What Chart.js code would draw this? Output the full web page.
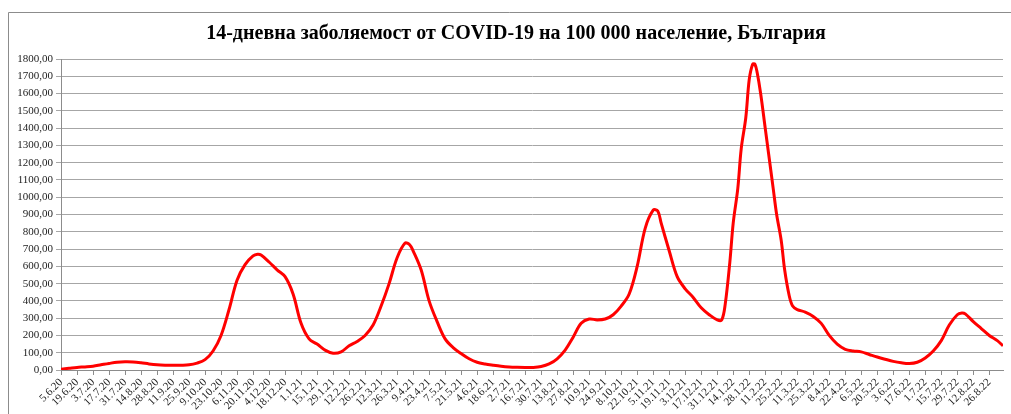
<!DOCTYPE html>
<html>
<head>
<meta charset="utf-8">
<script src="https://cdn.jsdelivr.net/npm/chart.js@4.4.1/dist/chart.umd.min.js"></script>
<style>
html,body{margin:0;padding:0;background:#fff;}
#wrap{position:relative;width:1011px;height:414px;}
</style>
</head>
<body>
<div id="wrap"><canvas id="c" width="1011" height="414"></canvas></div>
<script>
// Days since 5.6.2020
const days = [0,7,14,21,28,35,42,49,56,63,70,77,84,91,98,105,112,119,126,133,140,147,154,161,168,172,175,182,189,196,203,210,217,224,231,238,245,252,259,266,273,280,287,294,301,305,308,315,322,329,336,343,350,357,364,371,378,385,392,399,406,413,420,427,434,441,448,455,462,469,476,483,490,497,504,511,518,522,525,532,539,546,553,560,567,574,578,581,585,588,592,595,599,602,605,607,609,612,616,619,623,626,630,633,637,640,644,651,658,665,672,679,686,693,700,707,714,721,728,735,742,749,756,763,770,777,784,788,791,798,805,812,819,824];
// 14-day incidence per 100 000
const values = [5,10,15,18,22,30,38,45,48,47,42,35,30,28,28,28,30,40,60,110,200,350,520,610,660,670,665,625,580,540,440,270,180,150,115,97,105,140,165,200,260,370,500,650,735,725,690,580,400,280,180,130,95,65,45,35,28,22,18,16,15,15,20,35,65,115,190,270,295,290,295,320,370,440,600,820,925,920,850,690,540,470,420,360,320,290,290,380,620,850,1050,1280,1460,1680,1770,1770,1720,1600,1400,1250,1050,900,750,580,430,370,350,335,310,270,200,150,120,110,105,90,75,62,50,42,38,45,70,110,170,260,320,330,325,280,240,200,170,140];
const tickLabels = ["5.6.20","19.6.20","3.7.20","17.7.20","31.7.20","14.8.20","28.8.20","11.9.20","25.9.20","9.10.20","23.10.20","6.11.20","20.11.20","4.12.20","18.12.20","1.1.21","15.1.21","29.1.21","12.2.21","26.2.21","12.3.21","26.3.21","9.4.21","23.4.21","7.5.21","21.5.21","4.6.21","18.6.21","2.7.21","16.7.21","30.7.21","13.8.21","27.8.21","10.9.21","24.9.21","8.10.21","22.10.21","5.11.21","19.11.21","3.12.21","17.12.21","31.12.21","14.1.22","28.1.22","11.2.22","25.2.22","11.3.22","25.3.22","8.4.22","22.4.22","6.5.22","20.5.22","3.6.22","17.6.22","1.7.22","15.7.22","29.7.22","12.8.22","26.8.22"];
const tickStepDays = 14;
const lastDay = 824;
const title = "14-дневна заболяемост от COVID-19 на 100 000 население, България";

const pts = days.map((d,i)=>({x:d,y:values[i]}));

const frame = {
  id:'frame',
  beforeDraw(chart){
    const ctx = chart.ctx;
    ctx.save();
    ctx.fillStyle = '#fff';
    ctx.fillRect(0,0,chart.width,chart.height);
    ctx.strokeStyle = '#8c8c8c';
    ctx.lineWidth = 1;
    ctx.beginPath();
    ctx.moveTo(8.5, chart.height);
    ctx.lineTo(8.5, 12.5);
    ctx.lineTo(chart.width, 12.5);
    ctx.stroke();
    ctx.fillStyle = '#000';
    ctx.font = 'bold 20px "Liberation Serif"';
    ctx.textAlign = 'center';
    ctx.textBaseline = 'middle';
    ctx.fillText(title, 516, 34);
    ctx.restore();
  }
};

new Chart(document.getElementById('c'), {
  type:'line',
  data:{datasets:[{data:pts,borderColor:'#ff0000',borderWidth:3,pointRadius:0,tension:0.35,fill:false}]},
  options:{
    responsive:false,
    animation:false,
    layout:{padding:{left:0,right:8,top:59,bottom:0}},
    plugins:{
      legend:{display:false},
      tooltip:{enabled:false},
      title:{display:false}
    },
    scales:{
      x:{
        type:'linear',min:0,max:lastDay,
        afterFit(s){s.height=44;},
        afterBuildTicks(s){s.ticks = tickLabels.map((_,i)=>({value:i*tickStepDays}));},
        ticks:{autoSkip:false,maxRotation:45,minRotation:45,padding:1,color:'#222',
          font:{family:'Liberation Serif',size:11},
          callback:(v)=>tickLabels[Math.round(v/tickStepDays)] ?? ''},
        grid:{drawOnChartArea:false,drawTicks:true,tickLength:5,color:'#8c8c8c'},
        border:{color:'#8c8c8c'}
      },
      y:{
        min:0,max:1800,
        afterFit(s){s.width=61;},
        ticks:{stepSize:100,color:'#222',padding:3,font:{family:'Liberation Serif',size:11},
          callback:(v)=>v.toFixed(2).replace('.',',')},
        grid:{color:'#a6a6a6',tickLength:5},
        border:{color:'#8c8c8c'}
      }
    }
  },
  plugins:[frame]
});
</script>
</body>
</html>
